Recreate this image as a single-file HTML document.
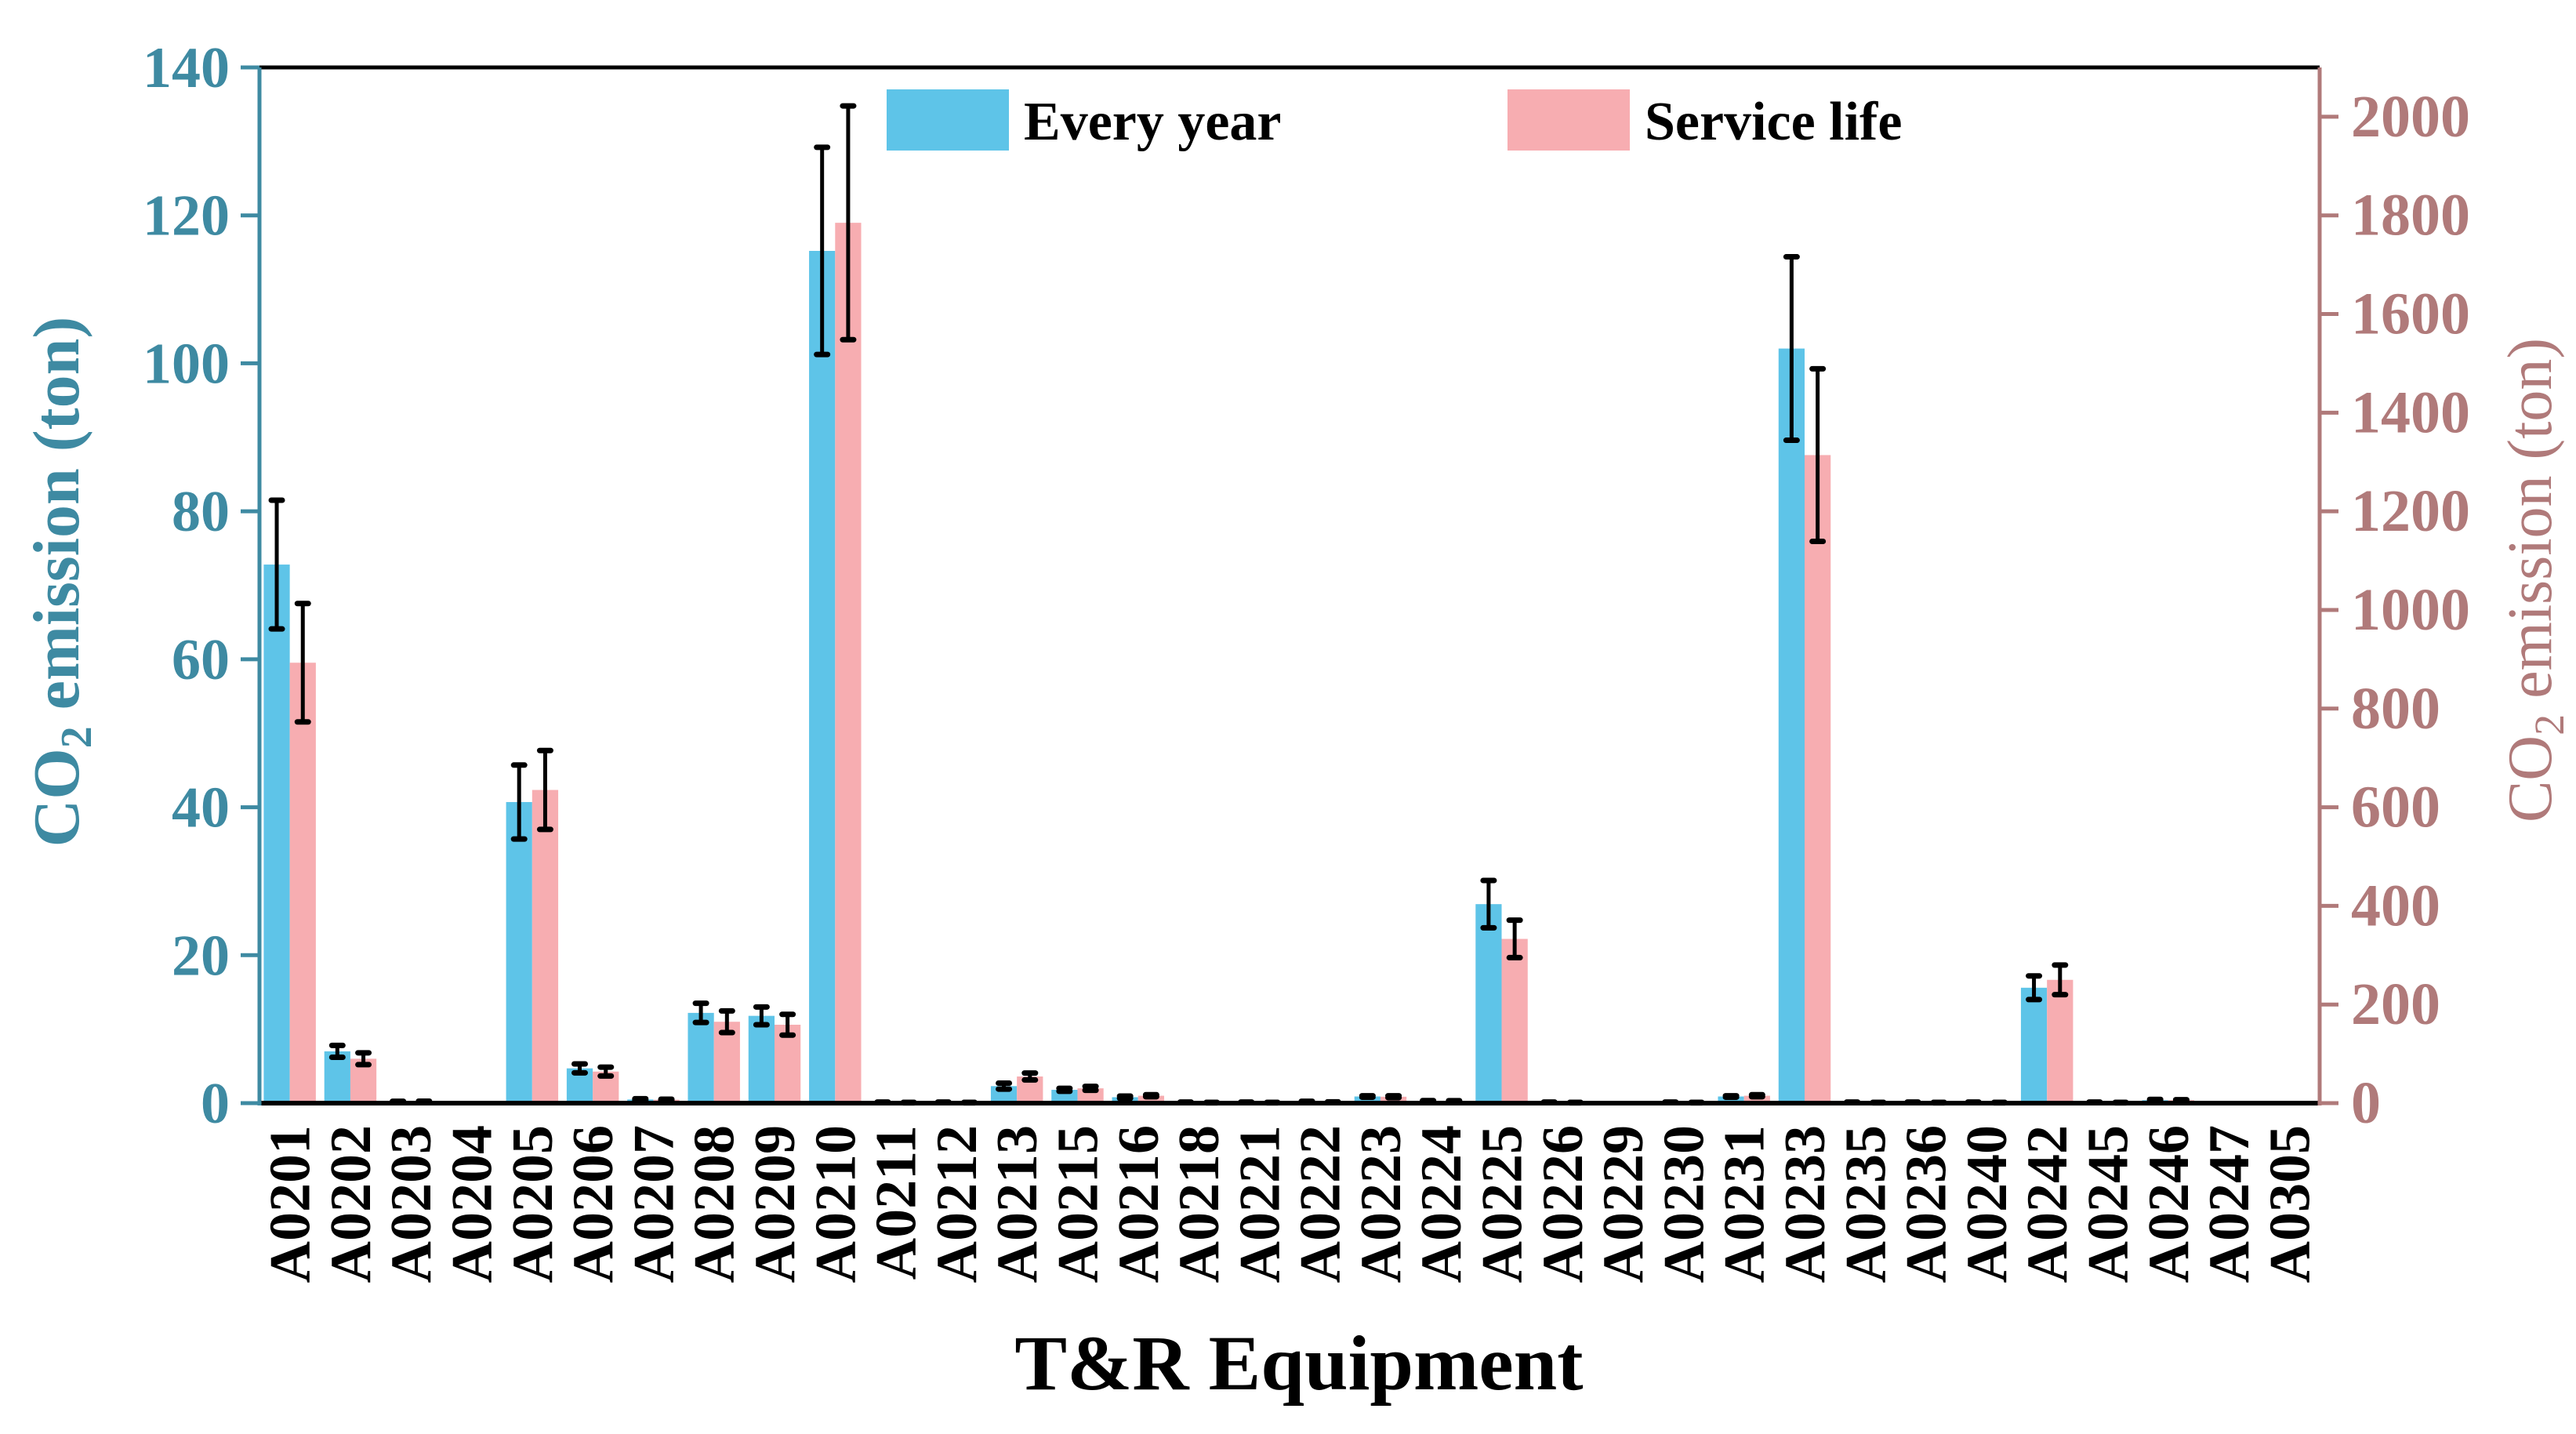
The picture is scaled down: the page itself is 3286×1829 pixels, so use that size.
<!DOCTYPE html>
<html><head><meta charset="utf-8"><style>
html,body{margin:0;padding:0;background:#fff;}
svg{display:block;font-family:"Liberation Serif",serif;}
</style></head><body>
<svg id="chart" width="3286" height="1829" viewBox="0 0 3286 1829" xmlns="http://www.w3.org/2000/svg"></svg>
<script>
const categories=["A0201","A0202","A0203","A0204","A0205","A0206","A0207","A0208","A0209","A0210","A0211","A0212","A0213","A0215","A0216","A0218","A0221","A0222","A0223","A0224","A0225","A0226","A0229","A0230","A0231","A0233","A0235","A0236","A0240","A0242","A0245","A0246","A0247","A0305"];
const everyYear=[72.8,7,0.2,0,40.7,4.7,0.5,12.2,11.8,115.2,0.1,0.1,2.3,1.8,0.8,0.1,0.1,0.2,0.9,0.3,26.9,0.1,0,0.1,0.9,102,0.1,0.1,0.1,15.6,0.1,0.4,0,0];
const everyYearErr=[8.7,0.8,0.05,0,5,0.6,0.1,1.3,1.2,14,0.05,0.05,0.4,0.2,0.15,0.05,0.05,0.05,0.1,0.05,3.2,0.05,0,0.05,0.1,12.4,0.05,0.05,0.05,1.6,0.05,0.1,0,0];
const serviceLife=[893,90,3,0,635,64,7,165,159,1785,1,1,54,30,15,1,1,2,13,4,333,1,0,1,15,1314,1,1,1,250,1,6,0,0];
const serviceLifeErr=[120,12,1,0,80,9,1,22,21,237,0.5,0.5,7,4,2,0.5,0.5,0.5,2,1,38,0.5,0,0.5,2,175,0.5,0.5,0.5,30,0.5,1,0,0];
const leftTicks=[0,20,40,60,80,100,120,140];
const rightTicks=[0,200,400,600,800,1000,1200,1400,1600,1800,2000];

const svg=document.getElementById('chart');
const NS='http://www.w3.org/2000/svg';
const X0=331,X1=2959,Y0=1407,Y1=86;
const leftMax=140,rightMax=2100;
const yL=v=>Y0-(v/leftMax)*(Y0-Y1);
const yR=v=>Y0-(v/rightMax)*(Y0-Y1);
const band=(X1-X0)/categories.length;
const xC=i=>X0+band*(i+0.5);
const bw=band*0.43;
const teal='#3e8aa2',rose='#b07a7a';
function mk(tag,attrs,parent){const e=document.createElementNS(NS,tag);for(const k in attrs)e.setAttribute(k,attrs[k]);(parent||svg).appendChild(e);return e;}

categories.forEach((c,i)=>{
  const cx=xC(i);
  const b1=mk('rect',{x:cx-bw,y:yL(everyYear[i]),width:bw,height:Y0-yL(everyYear[i]),fill:'#5ec4e8'});
  
  
  const b2=mk('rect',{x:cx,y:yR(serviceLife[i]),width:bw,height:Y0-yR(serviceLife[i]),fill:'#f7adb1'});
  
  
});
function err(x,yt,yb,name){
  const g=mk('g',{stroke:'#000','stroke-width':5});
  
  
  mk('line',{x1:x,x2:x,y1:yt,y2:yb},g);
  mk('line',{x1:x-7,x2:x+7,y1:yt,y2:yt,'stroke-width':7,'stroke-linecap':'round'},g);
  mk('line',{x1:x-7,x2:x+7,y1:yb,y2:yb,'stroke-width':7,'stroke-linecap':'round'},g);
}
categories.forEach((c,i)=>{
  const cx=xC(i);
  if(everyYear[i]>0)err(cx-bw/2,yL(everyYear[i]+everyYearErr[i]),yL(Math.max(0,everyYear[i]-everyYearErr[i])),'error-bar-every-year-'+c.toLowerCase());
  if(serviceLife[i]>0)err(cx+bw/2,yR(serviceLife[i]+serviceLifeErr[i]),yR(Math.max(0,serviceLife[i]-serviceLifeErr[i])),'error-bar-service-life-'+c.toLowerCase());
});
let e=mk('line',{x1:X0,x2:X1,y1:Y1,y2:Y1,stroke:'#000','stroke-width':5});

e=mk('line',{x1:X0,x2:X1,y1:Y0,y2:Y0,stroke:'#000','stroke-width':6});

e=mk('line',{x1:X0,x2:X0,y1:Y1,y2:Y0+3,stroke:teal,'stroke-width':5});

e=mk('line',{x1:X1,x2:X1,y1:Y1,y2:Y0+3,stroke:rose,'stroke-width':5});

leftTicks.forEach(v=>{
  const y=yL(v);
  mk('line',{x1:X0-24,x2:X0,y1:y,y2:y,stroke:teal,'stroke-width':5});
  const t=mk('text',{x:X0-38,y:y+25,'text-anchor':'end','font-size':74,'font-weight':'bold',fill:teal});
  t.textContent=v;
  
  
});
rightTicks.forEach(v=>{
  const y=yR(v);
  mk('line',{x1:X1,x2:X1+24,y1:y,y2:y,stroke:rose,'stroke-width':5});
  const t=mk('text',{x:X1+40,y:y+25,'text-anchor':'start','font-size':76,'font-weight':'bold',fill:rose});
  t.textContent=v;
  
  
});
categories.forEach((c,i)=>{
  const x=xC(i)+25,y=Y0+28;
  const t=mk('text',{x:x,y:y,transform:`rotate(-90 ${x} ${y})`,'text-anchor':'end','font-size':74,'font-weight':'bold',fill:'#000'});
  t.textContent=c;
  
  
});
</script>
<svg style="position:absolute;left:0;top:0" width="3286" height="1829">
  <g font-family="Liberation Serif, serif" font-weight="bold">
    <text transform="translate(100 742) rotate(-90)" text-anchor="middle" font-size="84" fill="#3e8aa2">CO<tspan font-size="56" dy="16">2</tspan><tspan dy="-16"> emission (ton)</tspan></text>
    <text transform="translate(3254 740) rotate(-90)" text-anchor="middle" font-size="80" font-weight="normal" fill="#b07a7a">CO<tspan font-size="54" dy="16">2</tspan><tspan dy="-16"> emission (ton)</tspan></text>
    <text x="1657" y="1772" text-anchor="middle" font-size="100" fill="#000">T&amp;R Equipment</text>
    <g>
      <rect x="1131" y="114" width="156" height="78" fill="#5ec4e8"/>
      <text x="1306" y="178" font-size="70" fill="#000">Every year</text>
      <rect x="1923" y="114" width="156" height="78" fill="#f7adb1"/>
      <text x="2098" y="178" font-size="70" fill="#000">Service life</text>
    </g>
  </g>
</svg>
</body></html>
